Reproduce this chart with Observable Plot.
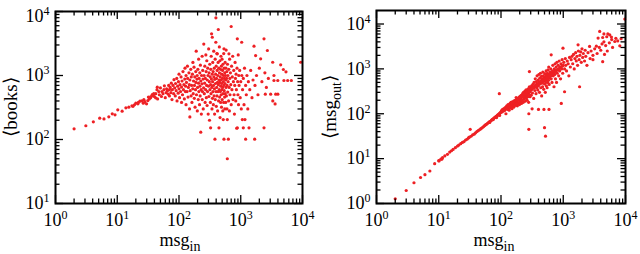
<!DOCTYPE html>
<html><head><meta charset="utf-8">
<script src="https://cdn.jsdelivr.net/npm/d3@7"></script>
<script src="https://cdn.jsdelivr.net/npm/@observablehq/plot@0.6"></script>
<style>
body{margin:0;background:#fff}
#chart{display:flex;width:640px;height:254px}
svg{overflow:visible}
</style>
</head><body><div id="chart"></div>
<script>
// ---------- data ----------
const decadeTicks = [1, 10, 100, 1000, 10000];
const tickLabels = ["10^0", "10^1", "10^2", "10^3", "10^4"];
const xTitle = ["msg", "in"];
const leftYTitle = "⟨books⟩";
const rightYTitle = ["⟨msg", "out", "⟩"];

// left panel: msg_in vs <books>
const booksPoints = [
  [2.0,147],[3.1,164],[4.1,189],[5.2,215],[6.1,210],[7.3,226],[8.3,252],[9.2,243],[10.2,291],[12,277],
  [13.8,313],[15.4,320],[17.3,336],[18,330],[19,349],[20,370],[21.6,361],[22,380],[23.3,397],[25,400],
  [26.4,369],[27,420],[28,390],[29.8,361],[31.3,406],[32,460],[33,430],[34.7,448],[35,470],[36.9,505],
  [38,480],[39,520],[41.8,448],[44.5,656],
  [40,470],[42,520],[44,600],[45,430],[47,560],[48,500],[50,640],[52,470],[53,560],[55,520],
  [57,600],[58,690],[60,450],[62,540],[63,620],[65,580],[67,510],[68,700],[70,600],[70,480],
  [72,650],[74,540],[75,760],[77,420],[78,600],[80,700],[82,520],[83,860],[85,640],[87,480],
  [88,750],[90,580],[92,900],[93,400],[95,680],[97,530],[98,800],[100,620],[100,1050],[102,450],
  [104,720],[106,560],[108,950],[110,380],[110,660],[112,820],[114,500],[116,1150],[118,600],[120,720],
  [122,430],[124,880],[125,1300],[127,560],[128,680],[130,350],[130,1000],
  [132,780],[135,560],[137,1400],[138,900],[140,460],[142,650],[145,1100],[147,720],[148,300],[150,850],
  [150,225],[152,580],[155,1250],[157,480],[158,950],[160,700],[162,380],[165,1050],[167,620],[168,1600],
  [170,520],[172,820],[175,1350],[177,440],[178,700],[180,950],[182,320],[185,600],[187,1150],[188,780],
  [190,2400],[192,500],[195,880],[197,1000],[198,280],[200,650],[202,1250],[205,420],[207,760],[208,1800],
  [210,560],[212,900],[215,350],[217,1100],[218,680],[220,480],[222,1450],[225,820],[225,130],[228,600],
  [230,250],[232,1000],[235,740],[237,2000],[238,420],[240,560],[242,1200],[245,880],[247,300],[250,640],
  [252,3100],[255,1000],[257,520],[260,760],[262,1400],[265,380],[267,900],[270,600],[272,2100],[275,1150],
  [277,450],[280,700],[282,1700],[285,340],[287,850],[290,560],[292,1300],[295,1000],[297,250],[300,680],
  [302,2600],[305,470],[307,1100],[310,800],[312,200],[315,1500],[317,600],[320,950],[322,380],[325,720],
  [325,152],[327,1250],[330,520],[332,2000],[335,880],[337,4480],[340,650],[342,300],[345,1050],[346,3960],
  [348,440],[350,800],[352,1600],[355,560],[357,1150],[360,350],[362,700],[365,2400],[367,950],[370,480],
  [372,1300],[375,620],[377,250],[380,870],[382,101],[385,1800],[387,420],[390,750],[392,1050],[395,3310],
  [396,7960],[398,560],[400,1400],[402,330],[405,900],[408,650],[410,2200],[412,480],[415,1200],[417,2180],
  [420,780],[422,280],[425,1000],[428,560],[430,1600],[433,5230],[435,720],[438,400],[440,1300],[444,152],
  [445,850],[448,600],[450,2800],[452,1100],[455,460],[458,780],[460,1700],[462,220],[465,950],[468,560],
  [470,1250],[472,380],[475,680],[478,2000],[480,850],[482,500],[485,1400],[488,320],[490,750],[492,1050],
  [495,600],[498,1800],[500,420],[505,900],[508,1200],[510,650],[512,280],[515,1500],[518,520],[521,205],
  [522,800],[525,1000],[528,380],[530,2200],[532,700],[535,2610],[535,101],[538,1300],[540,580],[545,900],
  [548,460],[550,1100],[552,300],[555,750],[558,1600],[560,520],[565,1000],[568,850],[570,380],[575,1300],
  [578,650],[580,2500],[585,480],[590,900],[595,1150],[598,300],[606,50],[606,205],[600,700],
  [610,1500],[615,550],[620,1000],[630,101],[625,800],[635,400],[640,1250],[644,2180],[650,650],[655,280],
  [660,1800],[665,900],[670,500],[680,1100],[690,720],[700,5830],[700,350],[710,1400],[720,600],[730,950],
  [740,2000],[750,420],[760,800],[770,1200],[780,500],[790,250],[800,700],[810,1600],[820,900],[830,400],
  [840,1050],[850,600],[860,150],[870,1300],[880,3740],[880,152],[890,800],[900,500],[910,2100],[920,350],
  [930,1000],[940,700],[960,1200],[980,450],[1000,800],[1035,3310],[1020,300],[1040,1000],[1060,205],[1070,600],
  [1100,152],[1100,900],[1130,350],[1150,1300],[1170,205],[1200,101],[1200,700],[1230,500],[1260,1000],[1300,300],
  [1330,800],[1360,152],[1400,600],[1450,1200],
  [1520,450],[1580,850],[1640,2870],[1680,101],[1700,700],[1740,2050],[1800,1000],[1900,500],[2000,1300],[2100,1820],
  [2200,800],[2380,3740],[2380,152],[2460,1100],[2500,511],[2600,650],[2700,2460],[2800,900],[3050,511],[3290,1610],
  [3300,400],[3450,1000],[3450,836],[3600,360],[3680,511],[3980,836],[3990,511],[4430,1470],[4900,1240],[5000,836],
  [5400,1140],[5750,836],[6600,836],[9350,1610]
];

// right panel: msg_in vs <msg_out>
const msgOutPoints = [
  [2,1.27],[3,1.95],[4,2.9],[5.1,3.8],[6,4.4],[7.2,5.3],[8.6,7.7],[10.1,8.9],[11.2,9.7],
  [10,9],[10.8,9.7],[11.5,10.5],[12.5,11.5],[13.8,12.5],[15,14],[16,15],[17,16],[18.5,17.5],[20,19],
  [21,20],[22.5,21.5],[24,23],[25.5,24],[27,26],[28.5,27],[30,29],[31,30],[32,45],[33,31.5],
  [35,34],[37,35],[39,37.5],[41,40],[43,42],[45,44],[47,46],[49,48],[51,50],[53,52.5],
  [55,55],[57,57],[59,59],[61,61.5],[63,63.5],[65,66],[67,68],[70,71],[72,74],[74,76],
  [76,78],[78,81],[80,83],[82,85],[84,88],[86,90],[88,93],[90,95],[92,98],[94,280],
  [94,100],[96,103],[98,106],[100,109],[95,92],[85,82],[75,74],[66,64],
  [102,118],[104,110],[106,125],[108,115],[110,122],[112,130],[114,118],[116,135],[118,126],[120,140],
  [122,128],[124,150],[126,132],[128,145],[130,125],[132,155],[134,142],[136,160],[138,138],[140,170],
  [142,150],[144,135],[146,162],[148,175],[150,145],[152,185],[155,160],[158,172],[160,140],[162,195],
  [165,175],[168,158],[170,200],[172,185],[175,165],[178,210],[180,190],[183,150],[185,215],[188,200],
  [190,175],[193,230],[195,205],[198,160],[200,240],[203,215],[206,190],[208,250],[210,225],[213,170],
  [215,260],[218,235],[220,200],[223,280],[225,245],[228,180],[230,300],[233,255],[235,215],[238,270],
  [240,230],[243,320],[245,190],[248,280],[250,250],[253,340],[255,220],[258,300],[260,260],[263,200],
  [265,320],[268,280],[270,240],[273,360],[275,300],[278,180],[280,330],[280,45],[280,100],[283,270],
  [286,870],[286,400],[290,310],[293,240],[296,380],[300,330],
  [120,100],[135,120],[150,130],[165,150],[180,165],[200,175],[215,200],[130,160],[145,180],[175,230],
  [305,260],[310,420],[316,129],[315,350],[320,290],[325,450],[330,380],[335,220],[340,500],[345,400],
  [350,330],[355,600],[360,440],[365,280],[370,520],[375,380],[380,700],[385,460],[390,340],[395,560],
  [400,125],[400,420],[405,750],[410,500],[415,300],[420,620],[425,460],[430,800],[435,380],[440,540],
  [445,680],[450,250],[455,480],[460,600],[465,400],[470,850],[475,520],[480,700],[485,350],[490,125],
  [490,560],[495,640],[500,49],[500,460],[505,780],[510,550],[515,300],[519,31.6],[520,650],[525,500],
  [530,900],[535,420],[540,720],[545,580],[550,380],[555,800],[560,650],[565,500],[570,950],[575,700],
  [580,560],[585,1100],[590,125],[590,760],[595,450],[600,640],[610,850],[620,720],[630,1000],[640,2060],
  [640,600],[650,800],[660,500],[670,900],[680,1200],[690,700],[700,850],[710,400],[720,1000],[730,750],
  [740,1300],[750,600],[760,900],[770,1100],[780,500],[790,1400],[800,800],[815,950],[830,1200],[845,700],
  [860,1500],[875,900],[890,1100],[905,600],[920,1300],[930,170],[940,1000],[960,1600],[980,800],[990,2900],
  [1000,1200],
  [210,250],[230,260],[250,290],[270,310],[290,340],[310,360],[330,390],[350,410],[370,440],[390,460],
  [410,480],[430,500],[450,530],[470,560],[490,580],[510,610],[530,630],[550,660],[570,680],[590,700],
  [620,740],[650,780],[680,820],[710,860],[740,890],[770,930],[800,960],[840,1000],[880,1050],[920,1100],
  [960,1150],[150,175],[160,185],[170,195],[180,205],[190,220],[200,230],[220,240],[240,270],[260,300],
  [280,320],[300,350],[320,370],[340,380],[360,420],[380,430],[400,470],[420,500],[440,520],[460,550],
  [480,570],[500,590],[520,580],[540,640],[560,600],[580,650],[600,720],[630,700],[660,760],[700,780],[750,850],
  [1020,1400],[1050,309],[1050,1000],[1080,1700],[1100,1200],[1130,900],[1160,1500],[1200,1300],[1230,700],[1260,1800],
  [1300,1100],[1340,1600],[1380,1900],[1420,1300],[1460,2100],[1500,1000],[1540,1700],[1580,2300],[1620,1500],[1660,1900],
  [1730,3440],[1700,1200],[1750,2500],[1800,1600],[1830,400],[1850,2000],[1900,2400],[1950,1400],[2000,2800],[2050,1800],
  [2100,2200],[2200,1500],[2250,2600],[2300,1900],[2400,1200],[2500,2300],[2650,3160],[2700,1700],[2800,2500],[3000,2000],
  [3200,2800],[3400,3200],[3630,4860],[3850,6840],[3500,2200],[3800,3000],[4000,2600],[4200,3600],[4500,4000],[4800,3300],
  [5100,2500],[5580,5750],[5940,5120],[6730,4080],[5500,3800],[6200,3000],[8100,3270],[9750,12900],
  [3000,1600],[4300,1450],[4600,2100],[7000,4800],[5000,5200],[4500,6000],[4300,5000],[5200,6000],[6000,4500],[7500,4200],[8500,4700]
];

// ---------- drawing ----------
const RED = "#ee2024";
const FONT = "'Liberation Serif', 'Times New Roman', serif";

function minorTicks(lo, hi) {
  const t = [];
  for (let d = lo; d < hi; d *= 10) for (let k = 2; k <= 9; k++) if (d * k < hi) t.push(d * k);
  return t;
}

function panel(opt) {
  const W = 320, H = 254;
  const [mt, mr, mb, ml] = opt.margins;
  const fh = H - mt - mb, fw = W - ml - mr;
  const maj = 8, mnr = 4.5;
  const xMaj = decadeTicks;
  const yMaj = decadeTicks.filter(v => v >= opt.yDomain[0] && v <= opt.yDomain[1]);
  const xMin = minorTicks(1, 1e4);
  const yMin = minorTicks(opt.yDomain[0], opt.yDomain[1]);
  const fmt = d => tickLabels[decadeTicks.indexOf(d)];
  const tk = {stroke: "black", strokeWidth: 1.3};
  const svg = Plot.plot({
    width: W, height: H,
    marginTop: mt, marginRight: mr, marginBottom: mb, marginLeft: ml,
    style: {background: "white", color: "black", overflow: "visible"},
    x: {type: "log", domain: [1, 1e4]},
    y: {type: "log", domain: opt.yDomain},
    marks: [
      Plot.dot(opt.points, {x: d => d[0], y: d => d[1], r: 1.6, fill: RED, stroke: "none"}),
      Plot.tickX(xMaj, {x: d => d, insetTop: fh - maj, ...tk}),
      Plot.tickX(xMaj, {x: d => d, insetBottom: fh - maj, ...tk}),
      Plot.tickX(xMin, {x: d => d, insetTop: fh - mnr, ...tk}),
      Plot.tickX(xMin, {x: d => d, insetBottom: fh - mnr, ...tk}),
      Plot.tickY(yMaj, {y: d => d, insetRight: fw - maj, ...tk}),
      Plot.tickY(yMaj, {y: d => d, insetLeft: fw - maj, ...tk}),
      Plot.tickY(yMin, {y: d => d, insetRight: fw - mnr, ...tk}),
      Plot.tickY(yMin, {y: d => d, insetLeft: fw - mnr, ...tk}),
      Plot.axisX(xMaj, {anchor: "bottom", tickSize: 0, tickPadding: 10, tickFormat: fmt, label: null,
        fontSize: 18, fontFamily: FONT}),
      Plot.axisY(yMaj, {anchor: "left", tickSize: 0, tickPadding: 6, tickFormat: fmt, label: null,
        fontSize: 18, fontFamily: FONT}),
      Plot.frame({stroke: "black", strokeWidth: 2})
    ]
  });
  const s = d3.select(svg);
  // superscripts on tick labels
  s.selectAll("text").each(function () {
    const m = /^10\^(\d)$/.exec(this.textContent);
    if (!m) return;
    const t = d3.select(this);
    t.attr("font-size", 18).attr("font-family", FONT).attr("fill", "black");
    const onY = this.closest("g") && /y-axis/.test(this.closest("g").getAttribute("aria-label") || "");
    if (onY && opt.topLabelShift && +m[1] === 4) t.attr("dy", opt.topLabelShift);
    t.text("10");
    t.append("tspan").attr("font-size", 12).attr("dy", -7).text(m[1]);
  });
  // x title with subscript
  const xt = s.append("text").attr("x", opt.xTitleX).attr("y", 246)
    .attr("text-anchor", "middle").attr("font-family", FONT).attr("font-size", 18).attr("fill", "black");
  xt.append("tspan").text(xTitle[0]);
  xt.append("tspan").attr("font-size", 14).attr("dy", 5).text(xTitle[1]);
  // y title
  const yt = s.append("text").attr("transform", `translate(${opt.yTitleX},107) rotate(-90)`)
    .attr("text-anchor", "middle").attr("font-family", FONT).attr("font-size", 19).attr("fill", "black");
  if (typeof opt.yTitle === "string") yt.text(opt.yTitle);
  else {
    yt.append("tspan").text(opt.yTitle[0]);
    yt.append("tspan").attr("font-size", 14).attr("dy", 5).text(opt.yTitle[1]);
    yt.append("tspan").attr("dy", -5).text(opt.yTitle[2]);
  }
  return svg;
}

const chart = document.getElementById("chart");
chart.append(panel({points: booksPoints, yDomain: [10, 1e4], margins: [11, 18, 51, 55],
  yTitle: leftYTitle, yTitleX: 17, xTitleX: 180, topLabelShift: 5}));
chart.append(panel({points: msgOutPoints, yDomain: [1, 2e4], margins: [10, 15, 51, 56],
  yTitle: rightYTitle, yTitleX: 16, xTitleX: 174}));
</script>
</body></html>
